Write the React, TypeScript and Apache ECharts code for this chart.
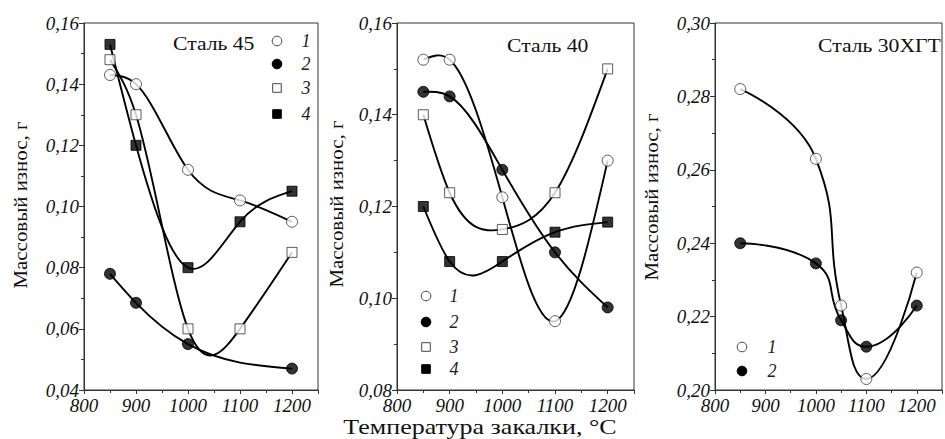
import React, { useEffect, useRef } from "react";
import * as echarts from "echarts";

// ---- Data ----
const TEMPS = [850, 900, 1000, 1100, 1200];
const TEMPS_45_2 = [850, 900, 1000, 1200];
const TEMPS_30 = [850, 1000, 1050, 1100, 1200];

// Сталь 45
const S45_1 = [0.143, 0.140, 0.112, 0.102, 0.095];
const S45_2 = [0.078, 0.0685, 0.055, 0.047];
const S45_3 = [0.148, 0.130, 0.060, 0.060, 0.085];
const S45_4 = [0.153, 0.120, 0.080, 0.095, 0.105];

// Сталь 40
const S40_1 = [0.152, 0.152, 0.122, 0.095, 0.130];
const S40_2 = [0.145, 0.144, 0.128, 0.110, 0.098];
const S40_3 = [0.140, 0.123, 0.115, 0.123, 0.150];
const S40_4 = [0.120, 0.108, 0.108, 0.1144, 0.1166];

// Сталь 30ХГТ
const S30_1 = [0.282, 0.263, 0.223, 0.203, 0.232];
const S30_2 = [0.240, 0.2345, 0.219, 0.2118, 0.223];

const TITLES = ["Сталь 45", "Сталь 40", "Сталь 30ХГТ"];
const LEGEND_LABELS = ["1", "2", "3", "4"];
const Y_NAME = "Массовый износ, г";
const X_NAME = "Температура закалки, °C";

const SERIF = "Liberation Serif";

type Kind = "oc" | "fc" | "os" | "fs";

const zip = (xs: number[], ys: number[]) => xs.map((x, i) => [x, ys[i]]);

// slopes of a natural cubic spline through the measured points
function splineSlopes(xs: number[], ys: number[]): number[] {
  const n = xs.length;
  const h: number[] = [];
  for (let i = 0; i < n - 1; i++) h.push(xs[i + 1] - xs[i]);
  const M = new Array(n).fill(0);
  if (n > 2) {
    const a: number[] = [], b: number[] = [], c: number[] = [], d: number[] = [];
    for (let i = 1; i < n - 1; i++) {
      a.push(h[i - 1]);
      b.push(2 * (h[i - 1] + h[i]));
      c.push(h[i]);
      d.push(6 * ((ys[i + 1] - ys[i]) / h[i] - (ys[i] - ys[i - 1]) / h[i - 1]));
    }
    const m = b.length;
    for (let i = 1; i < m; i++) {
      const w = a[i] / b[i - 1];
      b[i] -= w * c[i - 1];
      d[i] -= w * d[i - 1];
    }
    const sol = new Array(m).fill(0);
    sol[m - 1] = d[m - 1] / b[m - 1];
    for (let i = m - 2; i >= 0; i--) sol[i] = (d[i] - c[i] * sol[i + 1]) / b[i];
    for (let i = 0; i < m; i++) M[i + 1] = sol[i];
  }
  const s: number[] = [];
  for (let i = 0; i < n - 1; i++) {
    s.push((ys[i + 1] - ys[i]) / h[i] - (h[i] * (2 * M[i] + M[i + 1])) / 6);
  }
  s.push((ys[n - 1] - ys[n - 2]) / h[n - 2] + (h[n - 2] * (M[n - 2] + 2 * M[n - 1])) / 6);
  return s;
}

function curveSeries(grid: number, xs: number[], ys: number[]) {
  const slopes = splineSlopes(xs, ys);
  return {
    type: "custom",
    coordinateSystem: "cartesian2d",
    xAxisIndex: grid,
    yAxisIndex: grid,
    data: zip(xs, ys),
    encode: { x: 0, y: 1 },
    clip: true,
    z: 2,
    silent: true,
    renderItem: (params: any, api: any) => {
      const i = params.dataIndex;
      if (i >= xs.length - 1) return { type: "group", children: [] };
      const hh = xs[i + 1] - xs[i];
      const p0 = api.coord([xs[i], ys[i]]);
      const p3 = api.coord([xs[i + 1], ys[i + 1]]);
      const p1 = api.coord([xs[i] + hh / 3, ys[i] + (slopes[i] * hh) / 3]);
      const p2 = api.coord([xs[i + 1] - hh / 3, ys[i + 1] - (slopes[i + 1] * hh) / 3]);
      return {
        type: "bezierCurve",
        shape: {
          x1: p0[0], y1: p0[1],
          cpx1: p1[0], cpy1: p1[1],
          cpx2: p2[0], cpy2: p2[1],
          x2: p3[0], y2: p3[1],
        },
        style: { stroke: "#000", lineWidth: 1.9, fill: "none" },
      };
    },
  };
}

function smoothLine(grid: number, xs: number[], ys: number[]) {
  return {
    type: "line",
    xAxisIndex: grid,
    yAxisIndex: grid,
    data: zip(xs, ys),
    smooth: 0.5,
    showSymbol: false,
    lineStyle: { color: "#000", width: 1.9 },
    z: 2,
    silent: true,
  };
}

function markerSeries(grid: number, xs: number[], ys: number[], kind: Kind) {
  const open = kind === "oc" || kind === "os";
  const circle = kind === "oc" || kind === "fc";
  return {
    type: "scatter",
    xAxisIndex: grid,
    yAxisIndex: grid,
    data: zip(xs, ys),
    symbol: circle ? "circle" : "rect",
    symbolSize: circle ? 11 : 10,
    itemStyle: open
      ? { color: "#fff", borderColor: "#333", borderWidth: 1 }
      : { color: "#000", borderColor: "#000", borderWidth: 1 },
    z: 3,
  };
}

function legendMarker(kind: Kind, cx: number, cy: number) {
  const open = kind === "oc" || kind === "os";
  const circle = kind === "oc" || kind === "fc";
  const style = {
    fill: open ? "#fff" : "#000",
    stroke: open ? "#444" : "#000",
    lineWidth: 1,
  };
  return circle
    ? { type: "circle", shape: { cx, cy, r: 4.8 }, style }
    : { type: "rect", shape: { x: cx - 4.3, y: cy - 4.3, width: 8.6, height: 8.6 }, style };
}

function legendText(label: string, x: number, y: number) {
  return {
    type: "text",
    x,
    y,
    style: {
      text: label,
      fill: "#222",
      fontFamily: SERIF,
      fontStyle: "italic",
      fontSize: 18,
      align: "center",
      verticalAlign: "middle",
    },
  };
}

function yNameText(x: number, y: number) {
  return {
    type: "text",
    x,
    y,
    rotation: Math.PI / 2,
    scaleX: 1.1,
    style: {
      text: Y_NAME,
      fill: "#111",
      fontFamily: SERIF,
      fontSize: 19,
      align: "center",
      verticalAlign: "middle",
    },
  };
}

const yFmt = (v: number) => v.toFixed(2).replace(".", ",");

function xAxis(grid: number) {
  return {
    type: "value",
    gridIndex: grid,
    min: 800,
    max: 1250,
    interval: 100,
    axisLine: { show: true, lineStyle: { color: "#333", width: 1 } },
    axisTick: { show: true, length: 4, lineStyle: { color: "#333" } },
    minorTick: { show: true, splitNumber: 2, length: 3, lineStyle: { color: "#333" } },
    splitLine: { show: false },
    axisLabel: {
      margin: 6,
      color: "#111",
      fontFamily: SERIF,
      fontStyle: "italic",
      fontSize: 19,
      formatter: (v: number) => (v > 1200 ? "" : String(v)),
    },
  };
}

function yAxis(grid: number, min: number, max: number) {
  return {
    type: "value",
    gridIndex: grid,
    min,
    max,
    interval: 0.02,
    axisLine: { show: true, lineStyle: { color: "#333", width: 1 } },
    axisTick: { show: true, length: 5, lineStyle: { color: "#333" } },
    minorTick: { show: true, splitNumber: 2, length: 3, lineStyle: { color: "#333" } },
    splitLine: { show: false },
    axisLabel: {
      margin: 5,
      color: "#111",
      fontFamily: SERIF,
      fontStyle: "italic",
      fontSize: 19,
      formatter: yFmt,
    },
  };
}

export default function App() {
  const ref = useRef<HTMLDivElement>(null);

  useEffect(() => {
    if (!ref.current) return;
    const chart = echarts.init(ref.current, undefined, { renderer: "svg" });

    const gridBase = { show: true, borderColor: "#333", borderWidth: 1, backgroundColor: "transparent" };

    const graphic: any[] = [];
    const titlePos = [
      [173, 43],
      [507, 45],
      [818, 45],
    ];
    TITLES.forEach((t, i) => {
      graphic.push({
        type: "text",
        x: titlePos[i][0],
        y: titlePos[i][1],
        scaleX: 1.14,
        style: {
          text: t,
          fill: "#111",
          fontFamily: SERIF,
          fontSize: 19,
          align: "left",
          verticalAlign: "middle",
        },
      });
    });
    const kinds: Kind[] = ["oc", "fc", "os", "fs"];
    const leg1Y = [41, 64, 88, 114];
    kinds.forEach((k, i) => {
      graphic.push(legendMarker(k, 277, leg1Y[i]));
      graphic.push(legendText(LEGEND_LABELS[i], 306, leg1Y[i]));
    });
    const leg2Y = [296, 322, 347, 369];
    kinds.forEach((k, i) => {
      graphic.push(legendMarker(k, 426, leg2Y[i]));
      graphic.push(legendText(LEGEND_LABELS[i], 454, leg2Y[i]));
    });
    const leg3Y = [347, 371];
    ["oc", "fc"].forEach((k, i) => {
      graphic.push(legendMarker(k as Kind, 742, leg3Y[i]));
      graphic.push(legendText(LEGEND_LABELS[i], 772, leg3Y[i]));
    });
    graphic.push(yNameText(20, 205));
    graphic.push(yNameText(336, 204));
    graphic.push(yNameText(651, 197));
    graphic.push({
      type: "text",
      x: 480,
      y: 427,
      scaleX: 1.3,
      style: {
        text: X_NAME,
        fill: "#111",
        fontFamily: SERIF,
        fontSize: 20,
        align: "center",
        verticalAlign: "middle",
      },
    });

    chart.setOption({
      animation: false,
      backgroundColor: "#fff",
      grid: [
        { ...gridBase, left: 84, top: 23, width: 234, height: 367 },
        { ...gridBase, left: 397, top: 23, width: 237, height: 367 },
        { ...gridBase, left: 715, top: 23, width: 233, height: 367 },
      ],
      xAxis: [xAxis(0), xAxis(1), xAxis(2)],
      yAxis: [yAxis(0, 0.04, 0.16), yAxis(1, 0.08, 0.16), yAxis(2, 0.2, 0.3)],
      series: [
        curveSeries(0, TEMPS, S45_1),
        curveSeries(0, TEMPS_45_2, S45_2),
        curveSeries(0, TEMPS, S45_3),
        curveSeries(0, TEMPS, S45_4),
        curveSeries(1, TEMPS, S40_1),
        curveSeries(1, TEMPS, S40_2),
        curveSeries(1, TEMPS, S40_3),
        curveSeries(1, TEMPS, S40_4),
        smoothLine(2, TEMPS_30, S30_1),
        smoothLine(2, TEMPS_30, S30_2),
        markerSeries(0, TEMPS, S45_1, "oc"),
        markerSeries(0, TEMPS_45_2, S45_2, "fc"),
        markerSeries(0, TEMPS, S45_3, "os"),
        markerSeries(0, TEMPS, S45_4, "fs"),
        markerSeries(1, TEMPS, S40_1, "oc"),
        markerSeries(1, TEMPS, S40_2, "fc"),
        markerSeries(1, TEMPS, S40_3, "os"),
        markerSeries(1, TEMPS, S40_4, "fs"),
        markerSeries(2, TEMPS_30, S30_1, "oc"),
        markerSeries(2, TEMPS_30, S30_2, "fc"),
      ],
      graphic,
    });

    return () => chart.dispose();
  }, []);

  return (
    <div
      ref={ref}
      style={{ position: "fixed", left: 0, top: 0, width: 945, height: 439, background: "#fff" }}
    />
  );
}
